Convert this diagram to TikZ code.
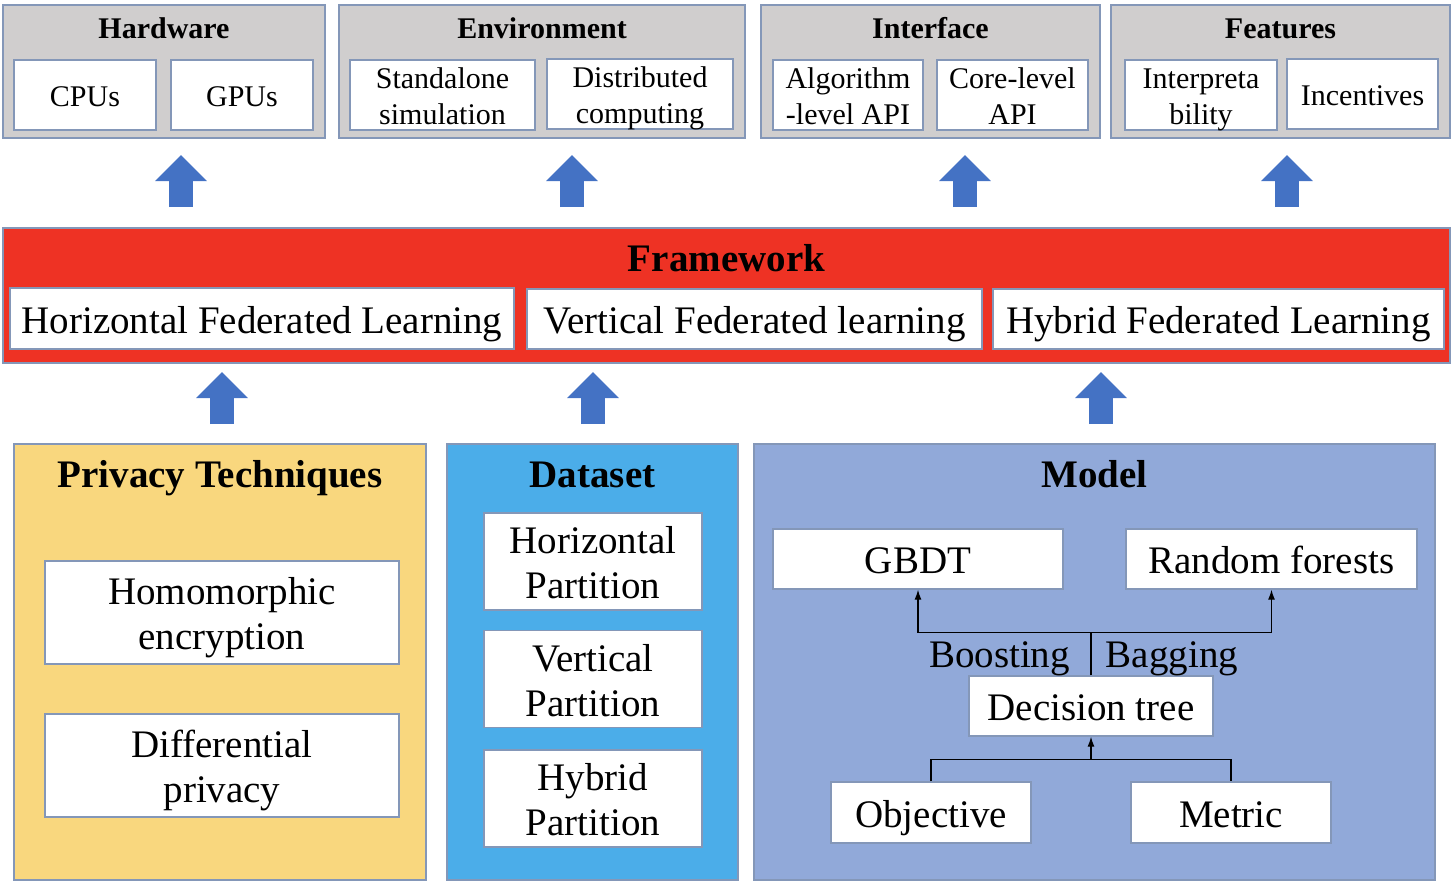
\documentclass[tikz,border=0pt]{standalone}
\usepackage{fontspec}
\setmainfont{Liberation Serif}
\usetikzlibrary{arrows.meta}
\definecolor{gray1}{HTML}{D0CECE}
\definecolor{line1}{HTML}{8497B8}
\definecolor{red1}{HTML}{EE3224}
\definecolor{yellow1}{HTML}{F9D77E}
\definecolor{blue1}{HTML}{4BADE9}
\definecolor{blue3}{HTML}{91A9D9}
\definecolor{blue4}{HTML}{4472C4}

\begin{document}
\begin{tikzpicture}[x=1pt, y=-1pt, align=center,
  wh/.style 2 args={minimum width=#1pt, minimum height=#2pt},
  group/.style={draw=line1, line width=1.3pt, inner sep=0pt},
  item/.style={draw=line1, line width=1.3pt, fill=white, inner sep=0pt},
  toptxt/.style={font=\fontsize{30}{36}\selectfont, text height=23.5pt, text depth=0pt},
  toptwo/.style={toptxt, text height=59.5pt},
  toptitle/.style={font=\bfseries\fontsize{30}{36}\selectfont, text height=21.5pt, text depth=0pt},
  bigtxt/.style={font=\fontsize{39}{45}\selectfont, text height=29.5pt, text depth=0pt},
  bigtwo/.style={bigtxt, text height=74.5pt},
  bigtitle/.style={font=\bfseries\fontsize{39}{45}\selectfont, text height=25.5pt, text depth=0pt},
  bigarrow/.style={blue4, line width=24pt, -{Triangle[width=50pt,length=26pt]}},
  tip/.style={line width=1.3pt, -{Latex[length=10pt,width=7pt]}}]
\useasboundingbox (0,0) rectangle (1454,888);

\node[group, fill=gray1, wh={322}{133}] (hw) at (164,71.5) {};
\node[toptitle] (hwt) at (164,28) {Hardware};
\node[item, toptxt, wh={142}{70}] (cpu) at (85,95) {CPUs};
\node[item, toptxt, wh={142}{70}] (gpu) at (242,95) {GPUs};

\node[group, fill=gray1, wh={406}{133}] (env) at (542,71.5) {};
\node[toptitle] (envt) at (542,28) {Environment};
\node[item, toptwo, wh={185}{70}] (sim) at (442.5,95) {Standalone\\simulation};
\node[item, toptwo, wh={186}{70}] (dist) at (640,94) {Distributed\\computing};

\node[group, fill=gray1, wh={339}{133}] (intf) at (930.5,71.5) {};
\node[toptitle] (intft) at (930.5,28) {Interface};
\node[item, toptwo, wh={150}{70}] (alg) at (848,95) {Algorithm\\-level API};
\node[item, toptwo, wh={151}{70}] (core) at (1012.5,95) {Core-level\\API};

\node[group, fill=gray1, wh={339}{133}] (feat) at (1280.5,71.5) {};
\node[toptitle] (featt) at (1280.5,28) {Features};
\node[item, toptwo, wh={152}{70}] (interp) at (1201,95) {Interpreta\\bility};
\node[item, toptxt, wh={151}{70}] (incent) at (1362.5,94) {Incentives};

\foreach \x in {181,572,965,1287}
  \draw[bigarrow] (\x,207) -- (\x,155);

\node[group, fill=red1, wh={1447}{135}] (fw) at (726.5,295.5) {};
\node[bigtitle] (fwt) at (726.5,259) {Framework};
\node[item, bigtxt, wh={504}{61}] (hfl) at (262,318.5) {Horizontal Federated Learning};
\node[item, bigtxt, wh={455}{60}] (vfl) at (754.5,319) {Vertical Federated learning};
\node[item, bigtxt, wh={451}{60}] (hyfl) at (1218.5,319) {Hybrid Federated Learning};

\foreach \x in {222,593,1101}
  \draw[bigarrow] (\x,424) -- (\x,372);

\node[group, fill=yellow1, wh={412}{436}] (priv) at (220,662) {};
\node[bigtitle] (privt) at (220,475) {Privacy Techniques};
\node[item, bigtwo, wh={354}{103}] (homo) at (222,612.5) {Homomorphic\\encryption};
\node[item, bigtwo, wh={354}{103}] (diff) at (222,765.5) {Differential\\privacy};

\node[group, fill=blue1, wh={291}{436}] (data) at (592.5,662) {};
\node[bigtitle] (datat) at (592.5,475) {Dataset};
\node[item, bigtwo, wh={218}{97}] (hpart) at (593,561.5) {Horizontal\\Partition};
\node[item, bigtwo, wh={218}{97}] (vpart) at (593,679) {Vertical\\Partition};
\node[item, bigtwo, wh={218}{97}] (hypart) at (593,798.5) {Hybrid\\Partition};

\node[group, fill=blue3, wh={681}{436}] (model) at (1094.5,662) {};
\node[bigtitle] (modelt) at (1094.5,475) {Model};
\node[item, bigtxt, wh={290}{60}] (gbdt) at (918,559) {GBDT};
\node[item, bigtxt, wh={291}{60}] (rf) at (1271.5,559) {Random forests};
\node[item, bigtxt, wh={244}{60}] (dt) at (1091,706) {Decision tree};
\node[item, bigtxt, wh={200}{61}] (obj) at (931,812.5) {Objective};
\node[item, bigtxt, wh={200}{61}] (metric) at (1231,812.5) {Metric};
\node[bigtitle, font=\fontsize{39}{45}\selectfont] (boost) at (999.5,655) {Boosting};
\node[bigtitle, font=\fontsize{39}{45}\selectfont] (bag) at (1172,655) {Bagging};

\draw[line width=1.3pt] (dt.north) -- ++(0,-43) coordinate (split);
\draw[tip] (split) -| (gbdt.south);
\draw[tip] (split) -| (rf.south);
\draw[line width=1.3pt] (obj.north) -- ++(0,-22) coordinate (join) -| (metric.north);
\draw[tip] (join -| dt.south) -- (dt.south);
\end{tikzpicture}
\end{document}
